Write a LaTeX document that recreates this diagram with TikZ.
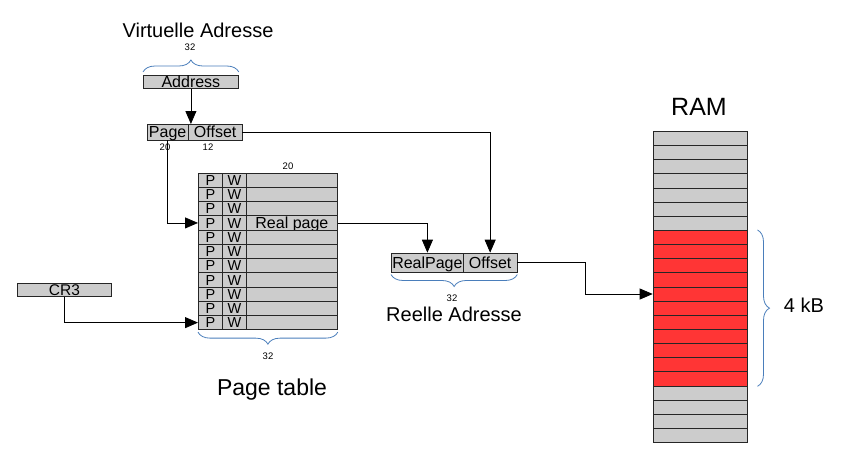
\documentclass[tikz,border=0pt]{standalone}
\usepackage{fontspec}
\setmainfont{Liberation Sans}
\usetikzlibrary{arrows.meta,decorations.pathreplacing,calc}
\definecolor{cellgray}{HTML}{CCCCCC}
\definecolor{ramred}{HTML}{FF3535}
\definecolor{braceblue}{HTML}{4A7EBB}
\begin{document}
\begin{tikzpicture}[x=1pt,y=-1pt,
  box/.style={draw=black!85, line width=0.8pt, fill=cellgray, inner sep=0pt, anchor=north west,
    text height=11.5pt, text depth=0pt, font=\fontsize{16}{16}\selectfont},
  cell/.style={draw=black!85, line width=0.8pt, fill=cellgray, inner sep=0pt, anchor=north west,
    minimum height=14.24pt, text height=10.5pt, text depth=0pt, font=\fontsize{14.5}{14.5}\selectfont},
  ramcell/.style={draw=black!85, line width=0.8pt, inner sep=0pt, anchor=north west,
    minimum height=14.14pt, minimum width=94pt},
  arr/.style={-{Triangle[length=13pt,width=11pt]}, line width=0.8pt},
  brace/.style={decorate, decoration={brace, amplitude=12pt}, draw=braceblue, line width=0.8pt},
  tiny/.style={font=\fontsize{9.5}{9.5}\selectfont, inner sep=0pt},
  title/.style={font=\fontsize{20}{20}\selectfont, inner sep=0pt}]
\useasboundingbox (0,0) rectangle (849,463);

% virtual address
\node[title] (vtitle) at (198,30) {Virtuelle Adresse};
\node[tiny] (v32) at (190,47) {32};
\node[box, minimum width=95pt, minimum height=13pt] (addr) at (143,75) {Address};
\node[box, minimum width=41.5pt, minimum height=15.5pt] (pg) at (146.5,124) {Page};
\node[box, minimum width=53.5pt, minimum height=15.5pt] (off) at (188,124) {Offset};
\node[tiny] (n20) at (165,147) {20};
\node[tiny] (n12) at (208,147) {12};
\draw[brace] ([yshift=3pt]addr.north west) -- ([yshift=3pt]addr.north east);

% page table
\foreach \i in {0,...,10}{
  \node[cell, minimum width=24pt] (p\i) at (198,172.7+\i*14.24) {P};
  \node[cell, minimum width=24pt] (w\i) at (222,172.7+\i*14.24) {W};
  \node[cell, minimum width=91pt, font=\fontsize{16}{16}\selectfont] (r\i) at (246,172.7+\i*14.24) {\ifnum\i=3 Real page\fi};
}
\node[tiny] (t20) at (288,166) {20};
\draw[brace] ([yshift=-2pt]r10.south east) -- ([yshift=-2pt]p10.south west);
\node[tiny] (t32) at (268,356) {32};
\node[font=\fontsize{23}{23}\selectfont, inner sep=0pt] (ptitle) at (272,390) {Page table};

% CR3
\node[box, minimum width=94pt, minimum height=13pt, font=\fontsize{15.5}{15.5}\selectfont, text height=11pt] (cr3) at (17,283) {CR3};

% real address
\node[box, minimum width=72pt, minimum height=19pt] (rpage) at (391,252.7) {RealPage};
\node[box, minimum width=53.5pt, minimum height=19pt] (roff) at (463,252.7) {Offset};
\draw[brace] ([yshift=-2pt]roff.south east) -- ([yshift=-2pt]rpage.south west);
\node[tiny] (r32) at (452,298) {32};
\node[title] (rtitle) at (454,314) {Reelle Adresse};

% RAM
\node[font=\fontsize{25}{25}\selectfont, inner sep=0pt] (ramtitle) at (699,107) {RAM};
\foreach \i in {0,...,21}{
  \ifnum\i<7 \def\cc{cellgray}\else\ifnum\i>17 \def\cc{cellgray}\else\def\cc{ramred}\fi\fi
  \node[ramcell, fill=\cc] (ram\i) at (652.7,131+\i*14.14) {};
}
\draw[brace] ([xshift=10pt]ram7.north east) -- ([xshift=10pt]ram17.south east);
\node[font=\fontsize{20}{20}\selectfont, inner sep=0pt] (kb) at (804,305) {4 kB};

% connectors
\draw[arr] (addr.south) -- (addr.south |- off.north);
\draw[arr] (off.east) -| (roff.north);
\draw[arr] (pg.south) |- (p3.west);
\draw[arr] (r3.east) -| (rpage.north);
\draw[arr] (cr3.south) |- (p10.west);
\draw[arr] (roff.east) -- ++(68,0) |- (ram11.west);
\end{tikzpicture}
\end{document}
